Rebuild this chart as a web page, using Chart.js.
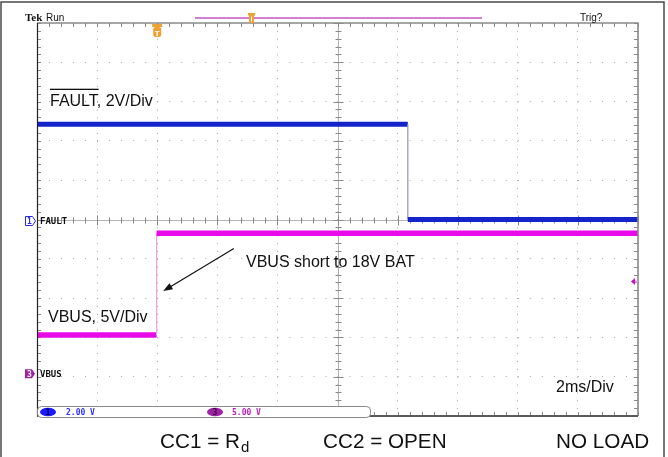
<!DOCTYPE html>
<html><head><meta charset="utf-8">
<script src="https://cdn.jsdelivr.net/npm/chart.js@4/dist/chart.umd.min.js"></script>
<style>html,body{margin:0;padding:0;background:#fff;overflow:hidden}canvas{display:block}</style>
</head><body>
<canvas id="c" width="668" height="457"></canvas>
<script>
// ---- axes (time in ms, trigger at 0; 2 ms/div; vertical in divisions) ----
const timeMin = -4, timeMax = 16, timePerDiv = 2;
const divMin = -5, divMax = 5;
// ---- channel 1: FAULT (2 V/div, ground at 0 div) ----
const faultTimes = [-4, 8.34, 8.34, 16];
const faultVolts = [4.85, 4.85, 0.0, 0.0];
const faultVoltsPerDiv = 2, faultGroundDiv = 0;
// ---- channel 3: VBUS (5 V/div, ground at -4 div) ----
const vbusTimes = [-4, -0.02, -0.02, 16];
const vbusVolts = [5.3, 5.3, 18.25, 18.25];
const vbusVoltsPerDiv = 5, vbusGroundDiv = -4;
const triggerLevelVolts = 12.1;
// ---- texts ----
const channelNames = ['FAULT', 'VBUS'];
const channelReadouts = ['2.00 V', '5.00 V'];
const bottomLabels = ['CC1 = R', 'd', 'CC2 = OPEN', 'NO LOAD'];

const SANS = '"Liberation Sans", Arial, Helvetica, sans-serif';
const MONO = '"DejaVu Sans Mono", monospace';
const BLUE = '#1424c8', MAG = '#e80ae8';

function toPoints(times, volts, vpd, gnd) {
  return times.map((t, i) => ({x: t, y: volts[i] / vpd + gnd}));
}
const isEdge = c => c.p0.parsed.x === c.p1.parsed.x;

const scopePlugin = {
  id: 'scope',
  beforeDatasetsDraw(chart) {
    const {ctx, chartArea: a, scales: {x, y}} = chart;
    const cx = Math.round(x.getPixelForValue((timeMin + timeMax) / 2)) + 0.5;
    const cy = Math.round(y.getPixelForValue(0)) + 0.5;
    ctx.save();
    ctx.lineWidth = 1;
    ctx.strokeStyle = '#b4b4b4';
    ctx.beginPath();
    ctx.moveTo(a.left, cy); ctx.lineTo(a.right, cy);
    ctx.moveTo(cx, a.top); ctx.lineTo(cx, a.bottom);
    ctx.stroke();
    ctx.strokeStyle = '#8a8a8a';
    ctx.beginPath();
    const nx = (timeMax - timeMin) / timePerDiv * 5;
    for (let i = 0; i <= nx; i++) {
      const px = Math.round(x.getPixelForValue(timeMin + i * timePerDiv / 5)) + 0.5;
      ctx.moveTo(px, a.top); ctx.lineTo(px, a.top + 4);
      ctx.moveTo(px, a.bottom); ctx.lineTo(px, a.bottom - 4);
      const h = (i % 5 === 0) ? 5 : 3;
      ctx.moveTo(px, cy - h); ctx.lineTo(px, cy + h);
    }
    const ny = (divMax - divMin) * 5;
    for (let i = 0; i <= ny; i++) {
      const py = Math.round(y.getPixelForValue(divMin + i / 5)) + 0.5;
      ctx.moveTo(a.left, py); ctx.lineTo(a.left + 4, py);
      ctx.moveTo(a.right, py); ctx.lineTo(a.right - 4, py);
      const h = (i % 5 === 0) ? 5 : 3;
      ctx.moveTo(cx - h, py); ctx.lineTo(cx + h, py);
    }
    ctx.stroke();
    ctx.restore();
  },
  afterDatasetsDraw(chart) {
    const {ctx, chartArea: a, scales: {x, y}} = chart;
    ctx.save();
    // graticule borders
    ctx.lineWidth = 1.6; ctx.strokeStyle = '#8a8a8a';
    ctx.beginPath();
    ctx.moveTo(a.left, a.top); ctx.lineTo(a.right, a.top); ctx.lineTo(a.right, a.bottom);
    ctx.stroke();
    ctx.lineWidth = 2; ctx.strokeStyle = '#5a5a5a';
    ctx.beginPath(); ctx.moveTo(a.left, a.bottom); ctx.lineTo(a.right, a.bottom); ctx.stroke();
    ctx.lineWidth = 1.2; ctx.strokeStyle = '#222';
    ctx.beginPath(); ctx.moveTo(a.left + 0.5, a.top); ctx.lineTo(a.left + 0.5, a.bottom); ctx.stroke();

    // outer frame
    ctx.lineWidth = 1.5; ctx.strokeStyle = '#4a4a4a';
    ctx.beginPath();
    ctx.moveTo(1, 457); ctx.lineTo(1, 2); ctx.lineTo(664, 2); ctx.lineTo(664, 457);
    ctx.stroke();

    // header
    ctx.fillStyle = '#111';
    ctx.textBaseline = 'alphabetic';
    ctx.font = 'bold 11px "Liberation Serif", serif';
    ctx.fillText('Tek', 25, 21);
    ctx.font = '10px ' + SANS;
    ctx.fillText('Run', 46, 21);
    ctx.fillText('Trig?', 580, 21);
    ctx.strokeStyle = '#c455c4'; ctx.lineWidth = 1.5;
    ctx.beginPath(); ctx.moveTo(195, 18); ctx.lineTo(482, 18); ctx.stroke();
    // small orange record marker
    ctx.fillStyle = '#f0a030';
    ctx.fillRect(248, 13, 7, 2.5);
    ctx.fillRect(249, 15, 5, 8);
    ctx.fillStyle = '#fff'; ctx.fillRect(251, 16.5, 1, 5);

    // trigger position marker (at t = 0)
    const tx = x.getPixelForValue(0);
    ctx.fillStyle = '#f0a030';
    ctx.fillRect(tx - 5, 24, 10, 3);
    ctx.beginPath();
    ctx.roundRect(tx - 4, 27, 8, 10, 2.5);
    ctx.fill();
    ctx.fillStyle = '#fff';
    ctx.font = 'bold 8px ' + SANS; ctx.textAlign = 'center';
    ctx.fillText('T', tx, 35.5);
    ctx.textAlign = 'left';

    // channel ground markers
    const g1 = y.getPixelForValue(faultGroundDiv) + 1.5;
    ctx.strokeStyle = '#2a2ae0'; ctx.lineWidth = 1; ctx.fillStyle = '#fff';
    ctx.beginPath();
    ctx.moveTo(25.5, g1 - 4.5); ctx.lineTo(32.5, g1 - 4.5); ctx.lineTo(35.5, g1);
    ctx.lineTo(32.5, g1 + 4.5); ctx.lineTo(25.5, g1 + 4.5); ctx.closePath();
    ctx.fill(); ctx.stroke();
    ctx.fillStyle = '#2a2ae0'; ctx.font = 'bold 8px ' + MONO; ctx.textAlign = 'center';
    ctx.fillText('1', 29.5, g1 + 3);
    const g3 = y.getPixelForValue(vbusGroundDiv) - 3;
    ctx.fillStyle = '#a020a8';
    ctx.beginPath();
    ctx.moveTo(25, g3 - 4.5); ctx.lineTo(32, g3 - 4.5); ctx.lineTo(35, g3);
    ctx.lineTo(32, g3 + 4.5); ctx.lineTo(25, g3 + 4.5); ctx.closePath(); ctx.fill();
    ctx.fillStyle = '#fff';
    ctx.fillText('3', 29.5, g3 + 3);
    ctx.textAlign = 'left';
    ctx.fillStyle = '#111'; ctx.font = 'bold 9px ' + MONO;
    ctx.fillText(channelNames[0], 40, g1 + 3.2);
    ctx.fillText(channelNames[1], 40, g3 + 3.2);

    // trigger level marker (right edge)
    const ty = y.getPixelForValue(triggerLevelVolts / vbusVoltsPerDiv + vbusGroundDiv);
    ctx.fillStyle = '#e6a0e6'; ctx.fillRect(634, ty - 1, 4, 2);
    ctx.fillStyle = '#c010c8';
    ctx.beginPath(); ctx.moveTo(631, ty); ctx.lineTo(635, ty - 3.5); ctx.lineTo(635, ty + 3.5); ctx.closePath(); ctx.fill();

    // readout box
    ctx.fillStyle = '#fff'; ctx.strokeStyle = '#8a8a8a'; ctx.lineWidth = 1;
    ctx.beginPath(); ctx.roundRect(a.left + 0.5, 406.5, 333, 11, 4); ctx.fill(); ctx.stroke();
    ctx.fillStyle = '#1a1aff';
    ctx.beginPath(); ctx.ellipse(48, 412, 8, 4.3, 0, 0, Math.PI * 2); ctx.fill();
    ctx.fillStyle = '#a020a8';
    ctx.beginPath(); ctx.ellipse(215, 412, 8, 4.3, 0, 0, Math.PI * 2); ctx.fill();
    ctx.font = 'bold 8px ' + MONO; ctx.textAlign = 'center';
    ctx.fillStyle = '#000050'; ctx.fillText('1', 48, 415);
    ctx.fillStyle = '#300030'; ctx.fillText('3', 215, 415);
    ctx.textAlign = 'left';
    ctx.fillStyle = '#3030ff'; ctx.fillText(channelReadouts[0], 66, 415);
    ctx.fillStyle = '#c020c0'; ctx.fillText(channelReadouts[1], 232, 415);

    // annotations
    ctx.fillStyle = '#111';
    ctx.font = '16px ' + SANS;
    ctx.fillText('FAULT, 2V/Div', 50, 106);
    const ow = ctx.measureText('FAULT').width;
    ctx.fillRect(50, 88.7, ow, 1.3);
    ctx.fillText('VBUS, 5V/Div', 48, 321.5);
    ctx.fillText('VBUS short to 18V BAT', 246, 266.5);
    ctx.fillText('2ms/Div', 556, 391.5);

    // arrow to VBUS edge
    const ax1 = x.getPixelForValue(2.55), ay1 = y.getPixelForValue(16.3 / vbusVoltsPerDiv + vbusGroundDiv);
    const ax2 = x.getPixelForValue(0.2), ay2 = y.getPixelForValue(10.9 / vbusVoltsPerDiv + vbusGroundDiv);
    ctx.strokeStyle = '#111'; ctx.lineWidth = 1.2;
    ctx.beginPath(); ctx.moveTo(ax1, ay1); ctx.lineTo(ax2 + 6, ay2 - 3.6); ctx.stroke();
    const ang = Math.atan2(ay2 - ay1, ax2 - ax1);
    ctx.beginPath();
    ctx.moveTo(ax2, ay2);
    ctx.lineTo(ax2 - 10 * Math.cos(ang - 0.35), ay2 - 10 * Math.sin(ang - 0.35));
    ctx.lineTo(ax2 - 10 * Math.cos(ang + 0.35), ay2 - 10 * Math.sin(ang + 0.35));
    ctx.closePath(); ctx.fill();

    // bottom labels
    ctx.font = '20.7px ' + SANS;
    ctx.fillText(bottomLabels[0], 160, 447.5);
    const rw = ctx.measureText(bottomLabels[0]).width;
    ctx.font = '15px ' + SANS;
    ctx.fillText(bottomLabels[1], 160 + rw + 1, 451.5);
    ctx.font = '20.7px ' + SANS;
    ctx.fillText(bottomLabels[2], 323, 447.5);
    ctx.fillText(bottomLabels[3], 556, 447.5);
    ctx.restore();
  }
};

new Chart(document.getElementById('c'), {
  type: 'line',
  data: {
    datasets: [
      {
        label: channelNames[1],
        data: toPoints(vbusTimes, vbusVolts, vbusVoltsPerDiv, vbusGroundDiv),
        borderColor: MAG, borderWidth: 5.5, pointRadius: 0, tension: 0,
        borderCapStyle: 'butt', clip: 0,
        segment: {
          borderWidth: c => isEdge(c) ? 1.2 : 5.5,
          borderColor: c => isEdge(c) ? '#eaa0ea' : MAG
        }
      },
      {
        label: channelNames[0],
        data: toPoints(faultTimes, faultVolts, faultVoltsPerDiv, faultGroundDiv),
        borderColor: BLUE, borderWidth: 5, pointRadius: 0, tension: 0,
        borderCapStyle: 'butt', clip: 0,
        segment: {
          borderWidth: c => isEdge(c) ? 1.2 : 5,
          borderColor: c => isEdge(c) ? '#9090b8' : BLUE
        }
      }
    ]
  },
  options: {
    responsive: false,
    devicePixelRatio: 1,
    animation: false,
    events: [],
    layout: {padding: {left: 37, top: 23, right: 30, bottom: 41}},
    plugins: {legend: {display: false}, tooltip: {enabled: false}},
    scales: {
      x: {
        type: 'linear', min: timeMin, max: timeMax,
        ticks: {display: false, stepSize: timePerDiv},
        grid: {color: '#a4a4a4', lineWidth: 1, drawTicks: false},
        border: {display: false, dash: [1, 6.86]}
      },
      y: {
        type: 'linear', min: divMin, max: divMax,
        ticks: {display: false, stepSize: 1},
        grid: {color: '#a4a4a4', lineWidth: 1, drawTicks: false},
        border: {display: false, dash: [1, 11.02]}
      }
    }
  },
  plugins: [scopePlugin]
});
</script>
</body></html>
